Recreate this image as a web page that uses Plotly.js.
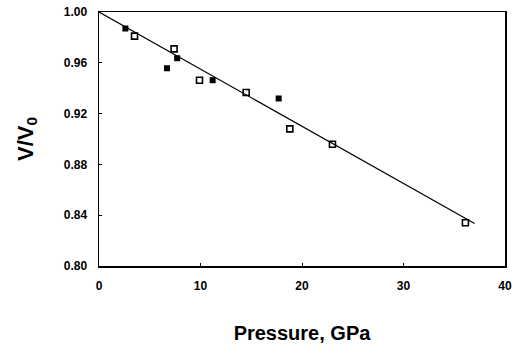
<!DOCTYPE html>
<html>
<head>
<meta charset="utf-8">
<script src="https://cdn.plot.ly/plotly-3.0.1.min.js"></script>
<style>html,body{margin:0;padding:0;background:#fff;}#chart{width:514px;height:348px;}</style>
</head>
<body>
<div id="chart"></div>
<script>
// Filled squares
const filledP = [2.6, 6.7, 7.7, 11.2, 17.7];
const filledV = [0.987, 0.9557, 0.9636, 0.9463, 0.9319];
// Open squares
const openP = [3.5, 7.4, 9.9, 14.5, 18.8, 23.0, 36.1];
const openV = [0.981, 0.971, 0.9463, 0.9366, 0.908, 0.8959, 0.834];
// Fitted line
const fitP = [0, 37];
const fitV = [1.0, 0.8335];

const xTicks = [0, 10, 20, 30, 40];
const yTicks = [0.80, 0.84, 0.88, 0.92, 0.96, 1.00];

const traces = [
  {x: fitP, y: fitV, mode: 'lines', line: {color: '#000', width: 1.2}, showlegend: false, hoverinfo: 'skip'},
  {x: filledP, y: filledV, mode: 'markers', marker: {symbol: 'square', size: 6, color: '#000'}, showlegend: false},
  {x: openP, y: openV, mode: 'markers', marker: {symbol: 'square-open', size: 6, color: '#000', line: {width: 1.6, color: '#000'}}, showlegend: false}
];

const font = {family: 'Liberation Sans, Arial, sans-serif', color: '#000'};

const layout = {
  width: 514, height: 348,
  margin: {l: 99, r: 9, t: 12, b: 82},
  paper_bgcolor: '#fff', plot_bgcolor: '#fff',
  font: font,
  xaxis: {
    range: [0, 40], tickvals: xTicks, ticktext: xTicks.map(v => '<b>' + v + '</b>'),
    showgrid: false, zeroline: false, showline: true, linecolor: '#000', linewidth: 1.5, mirror: true,
    ticks: 'inside', ticklen: 3, tickcolor: '#000', tickwidth: 1,
    tickfont: {family: font.family, size: 12, color: '#000'},
    ticklabelstandoff: 8,
    title: {text: '<b>Pressure, GPa</b>', font: {family: font.family, size: 20, color: '#000'}, standoff: 34}
  },
  yaxis: {
    range: [0.80, 1.00], tickvals: yTicks, ticktext: yTicks.map(v => '<b>' + v.toFixed(2) + '</b>'),
    showgrid: false, zeroline: false, showline: true, linecolor: '#000', linewidth: 1.5, mirror: true,
    ticks: 'inside', ticklen: 3, tickcolor: '#000', tickwidth: 1,
    tickfont: {family: font.family, size: 12, color: '#000'},
    ticklabelstandoff: 8,
    title: {text: '<b>V/V<sub>0</sub></b>', font: {family: font.family, size: 22, color: '#000'}, standoff: 24}
  }
};

Plotly.newPlot('chart', traces, layout, {displayModeBar: false, staticPlot: true});
</script>
</body>
</html>
